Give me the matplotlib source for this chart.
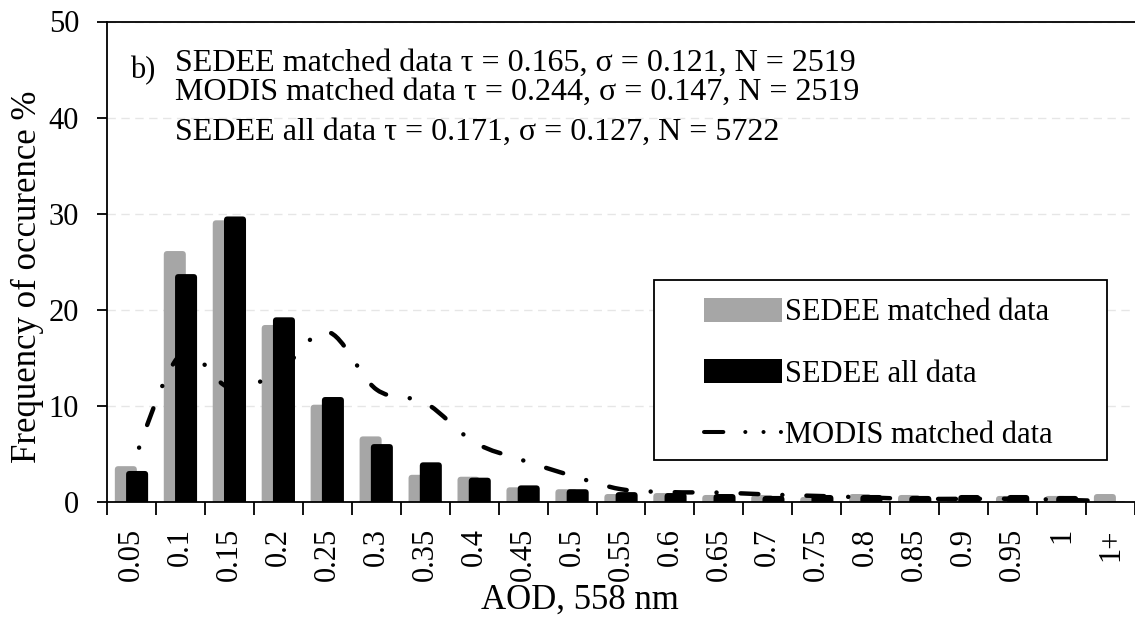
import numpy as np
import matplotlib.pyplot as plt
from matplotlib.patches import FancyBboxPatch, PathPatch, Patch, Rectangle
from matplotlib.lines import Line2D
from matplotlib.path import Path

plt.rcParams['font.family'] = ['Liberation Serif', 'DejaVu Serif']

# data (frequency of occurrence, %)
categories = ["0.05", "0.1", "0.15", "0.2", "0.25", "0.3", "0.35", "0.4", "0.45", "0.5",
              "0.55", "0.6", "0.65", "0.7", "0.75", "0.8", "0.85", "0.9", "0.95", "1", "1+"]
sedee_matched = [3.7, 26.1, 29.3, 18.4, 10.1, 6.8, 2.8, 2.6, 1.5, 1.3,
                 0.8, 0.9, 0.7, 0.7, 0.5, 0.8, 0.7, 0.3, 0.6, 0.6, 0.8]
sedee_all = [3.2, 23.7, 29.7, 19.2, 10.9, 6.0, 4.1, 2.5, 1.7, 1.3,
             1.0, 0.9, 0.8, 0.6, 0.7, 0.7, 0.6, 0.7, 0.7, 0.6, 0.0]
modis_matched = [3.5, 15.3, 11.9, 13.5, 17.7, 11.7, 10.3, 6.2, 4.3, 2.7,
                 1.3, 1.0, 0.95, 0.75, 0.6, 0.45, 0.3, 0.3, 0.3, 0.2, 0.05]
stats_lines = ["SEDEE matched data \u03c4 = 0.165, \u03c3 = 0.121, N = 2519",
               "MODIS matched data \u03c4 = 0.244, \u03c3 = 0.147, N = 2519",
               "SEDEE all data \u03c4 = 0.171, \u03c3 = 0.127, N = 5722"]
legend_labels = ["SEDEE matched data", "SEDEE all data", "MODIS matched data"]

GRAY = "#a6a6a6"
W, H = 1135, 623
AX_L, AX_R, AX_T, AX_B = 107, 1135, 21.5, 501.7
CAT_PX = 49.25
FS = 22


def fpx(x, y):
    # figure pixel (from top-left) -> figure fraction
    return x / W, 1 - y / H


def smooth_path(xs, ys, t=1/6):
    # Catmull-Rom style bezier through the points (like a spreadsheet "smoothed line")
    verts = [(xs[0], ys[0])]
    codes = [Path.MOVETO]
    n = len(xs)
    for i in range(n - 1):
        a = max(i - 1, 0)
        b = min(i + 2, n - 1)
        c1 = (xs[i] + (xs[i + 1] - xs[a]) * t, ys[i] + (ys[i + 1] - ys[a]) * t)
        c2 = (xs[i + 1] - (xs[b] - xs[i]) * t, ys[i + 1] - (ys[b] - ys[i]) * t)
        verts += [c1, c2, (xs[i + 1], ys[i + 1])]
        codes += [Path.CURVE4] * 3
    return Path(verts, codes)


fig = plt.figure(figsize=(W / 100, H / 100), dpi=100)
ax = fig.add_axes([AX_L / W, 1 - AX_B / H, (AX_R - AX_L) / W, (AX_B - AX_T) / H])
ax.set_xlim(0, (AX_R - AX_L) / CAT_PX)
ax.set_ylim(0, 50)

x = np.arange(len(categories)) + 0.5
px_y = (AX_B - AX_T) / 50
r = 3.5 / CAT_PX          # corner radius in x units
asp = CAT_PX / px_y       # keeps the corners round on screen
bar_w = 0.45

for vals, off, col in [(sedee_matched, -0.115, GRAY), (sedee_all, 0.115, "black")]:
    for xi, v in zip(x, vals):
        p = FancyBboxPatch((xi + off - bar_w / 2, -r * asp), bar_w, v + r * asp,
                           boxstyle=f"round,pad=0,rounding_size={r}",
                           mutation_aspect=asp, facecolor=col, edgecolor="none", zorder=2)
        ax.add_patch(p)

line = PathPatch(smooth_path(x, modis_matched), fill=False, edgecolor="black",
                 linewidth=3.2, linestyle=(4.5, (4.0, 5.4, 0.02, 5.4)), zorder=3)
line.set_capstyle("round")
ax.add_patch(line)

# axes styling
ax.set_yticks(range(0, 51, 10))
ax.set_xticks(np.arange(0, len(categories) + 1))
ax.set_xticklabels([])
ax.set_xticks(x, minor=True)
ax.set_xticklabels(categories, minor=True, rotation=90, fontsize=FS, va="top")
ax.tick_params(axis="x", which="minor", length=0, pad=19)
ax.tick_params(axis="x", which="major", direction="out", length=9, width=1.3)
ax.tick_params(axis="y", direction="out", length=7, width=1.3, labelsize=FS, pad=13)
for s in ["left", "bottom", "top"]:
    ax.spines[s].set_linewidth(1.3)
ax.spines["right"].set_visible(False)
ax.yaxis.grid(True, color="#e6e6e6", linestyle=(0, (6, 4)), linewidth=1.0, zorder=0)
ax.set_axisbelow(True)

fig.text(*fpx(580, 600), "AOD, 558 nm", fontsize=25, ha="center", va="center")
fig.text(*fpx(27, 277), "Frequency of occurence %", fontsize=25, rotation=90,
         ha="center", va="center")

# stats annotation
fig.text(*fpx(130, 78), "b)", fontsize=FS, ha="left", va="baseline")
for txt, yb in zip(stats_lines, [71, 100, 140]):
    fig.text(*fpx(175, yb), txt, fontsize=23, ha="left", va="baseline")

# legend (frame drawn separately to match the wide box)
fig.add_artist(Rectangle(fpx(654, 460), (1107 - 654) / W, (460 - 280) / H,
                         transform=fig.transFigure, facecolor="white",
                         edgecolor="black", linewidth=1.3, zorder=4))
handles = [Patch(facecolor=GRAY, edgecolor="none"),
           Patch(facecolor="black", edgecolor="none"),
           Line2D([], [], color="black", linewidth=2.9, dash_capstyle="round",
                  linestyle=(0, (4.8, 5.45, 0.02, 4.5, 0.02, 4.3, 0.02, 10)))]
leg = fig.legend(handles, legend_labels,
                 loc="upper left", bbox_to_anchor=fpx(704, 298), frameon=False,
                 fontsize=FS, handlelength=2.55, handleheight=0.82, handletextpad=0.1,
                 labelspacing=1.04, borderpad=0, borderaxespad=0)
leg.set_zorder(5)

fig.savefig("out.png", dpi=100)
